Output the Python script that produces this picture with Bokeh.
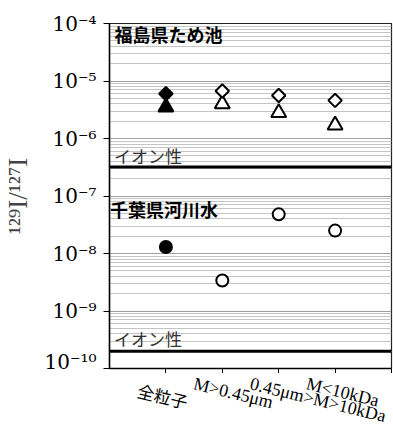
from bokeh.plotting import figure
from bokeh.models import FixedTicker, Span, Range1d
from bokeh.layouts import column
from bokeh.core.properties import value
from bokeh.embed import file_html
from bokeh.resources import INLINE
import math

# ---- data ----
cat_x = [1, 2, 3, 4]
cat_labels = ["全粒子", "M>0.45μm", "0.45μm>M>10kDa", "M<10kDa"]
fuku_diamond = [6.0e-6, 6.7e-6, 5.6e-6, 4.6e-6]
fuku_triangle = [3.5e-6, 4.0e-6, 2.8e-6, 1.7e-6]
chiba_circle = [1.3e-8, 3.4e-9, 4.8e-8, 2.5e-8]
filled = [True, False, False, False]
ionic_levels = [3.2e-7, 2.0e-10]
decades = [-10, -9, -8, -7, -6, -5, -4]
sup = str.maketrans("-0123456789", "⁻⁰¹²³⁴⁵⁶⁷⁸⁹")

p = figure(frame_width=282, frame_height=345, output_backend="svg", toolbar_location=None,
           y_axis_type="log", x_range=Range1d(0, 5), y_range=(1e-10, 1e-4),
           min_border_left=108, min_border_right=3, min_border_top=23, min_border_bottom=0)
p.outline_line_color = "#222222"
p.outline_line_width = 1.2
p.background_fill_color = "white"
p.border_fill_color = "white"

# grid
major = [10.0 ** d for d in decades]
minor = [k * 10.0 ** d for d in decades[:-1] for k in range(2, 10)]
p.yaxis.ticker = FixedTicker(ticks=major, minor_ticks=minor)
p.ygrid.grid_line_color = "#a0a0a0"
p.ygrid.grid_line_width = 1
p.ygrid.minor_grid_line_color = "#c4c4c4"
p.ygrid.minor_grid_line_width = 1
p.xgrid.grid_line_color = None

p.yaxis.major_label_overrides = {10.0 ** d: "10" + str(d).translate(sup) for d in decades}
p.yaxis.major_label_text_font = "DejaVu Serif"
p.yaxis.major_label_text_font_size = "20px"
p.yaxis.major_label_text_color = "black"
p.yaxis.major_tick_out = 6
p.yaxis.major_tick_in = 0
p.yaxis.minor_tick_out = 0
p.yaxis.minor_tick_in = 0
p.yaxis.major_label_standoff = 7
p.yaxis.axis_line_width = 1.5
p.yaxis.axis_label = "¹²⁹I/¹²⁷I"
p.yaxis.axis_label_text_font = "Liberation Serif, DejaVu Serif"
p.yaxis.axis_label_text_font_style = "normal"
p.yaxis.axis_label_text_font_size = "27px"
p.yaxis.axis_label_standoff = 8

p.xaxis.ticker = FixedTicker(ticks=[1, 2, 3, 4, 5])
p.xaxis.major_label_overrides = {1: "", 2: "", 3: "", 4: "", 5: ""}
p.xaxis.major_label_text_font_size = "1px"
p.xaxis.major_label_standoff = 0
p.xaxis.major_tick_out = 5
p.xaxis.major_tick_in = 0
p.xaxis.minor_tick_out = 0
p.xaxis.axis_line_width = 1.5

# ionic lines
for lv in ionic_levels:
    p.add_layout(Span(location=lv, dimension="width", line_color="black", line_width=3))

# text in plot
p.text(x=[0.09, 0.01], y=[10 ** -4.19, 10 ** -7.22], text=["福島県ため池", "千葉県河川水"],
       text_font=value("Noto Sans CJK JP"), text_font_style="bold", text_font_size="18px",
       text_baseline="middle", text_align="left", text_color="black")
p.text(x=[0.08, 0.08], y=[10 ** -6.30, 10 ** -9.48], text=["イオン性", "イオン性"],
       text_font=value("Noto Sans CJK JP"), text_font_size="17px",
       text_baseline="middle", text_align="left", text_color="#333333")

fill = ["black" if f else "white" for f in filled]
p.scatter(cat_x, fuku_triangle, marker="triangle", size=15, fill_color=fill,
          line_color="black", line_width=2)
p.scatter(cat_x, fuku_diamond, marker="square", angle=math.pi / 4, size=9.5, fill_color=fill,
          line_color="black", line_width=2)
p.scatter(cat_x, chiba_circle, marker="circle", size=12, fill_color=fill,
          line_color="black", line_width=2)

# category labels panel (shares x range)
q = figure(frame_width=282, frame_height=54, output_backend="svg", toolbar_location=None,
           x_range=p.x_range, y_range=Range1d(0, 1),
           min_border_left=108, min_border_right=3, min_border_top=0, min_border_bottom=0,
           x_axis_location=None, y_axis_location=None)
q.outline_line_color = None
q.grid.visible = False
q.text(x=cat_x[:1], y=[1], text=cat_labels[:1], angle=-0.24, x_offset=-25, y_offset=4,
       text_font=value("Noto Sans CJK JP"), text_font_size="17px",
       text_baseline="top", text_align="left", text_color="black")
q.text(x=cat_x[1:], y=[1] * 3, text=cat_labels[1:], angle=-0.24, x_offset=-26, y_offset=0,
       text_font=value("Liberation Serif"), text_font_size="18px",
       text_baseline="top", text_align="left", text_color="black")

open("out.html", "w").write(file_html(column(p, q, spacing=0), INLINE))
